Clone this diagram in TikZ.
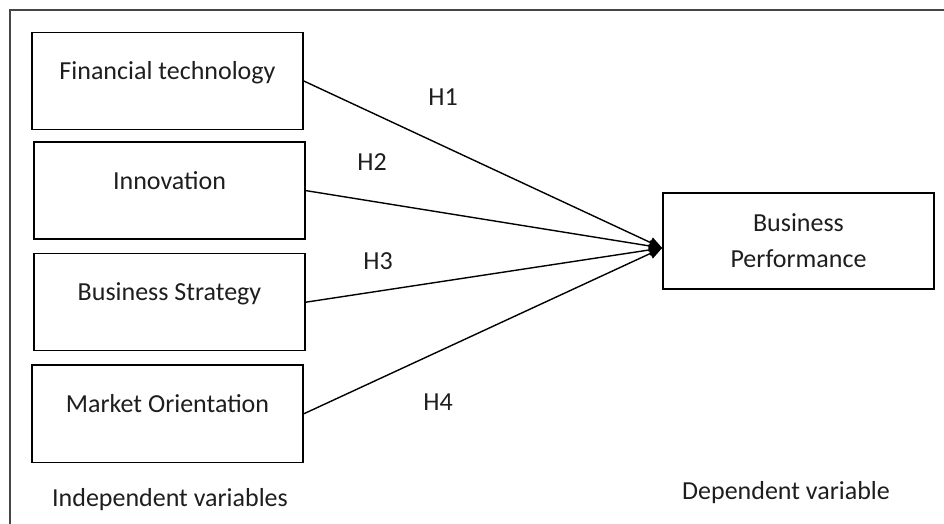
\documentclass[tikz,border=0pt]{standalone}
\usepackage{fontspec}
\setmainfont{Carlito}
\usetikzlibrary{arrows.meta,positioning}
\usepackage{xcolor}
\definecolor{framecol}{RGB}{70,70,70}
\definecolor{inkcol}{RGB}{30,30,30}

\begin{document}
\begin{tikzpicture}[
  x=0.5pt, y=-0.5pt,
  node distance=6pt and 2cm,
  every node/.style={font=\fontsize{13}{18}\selectfont, text=inkcol},
  box/.style={draw, line width=0.8pt, minimum width=135.5pt, minimum height=48.5pt, text height=8pt, text depth=9.5pt, inner sep=0pt},
  target/.style={draw, line width=0.8pt, minimum width=135.5pt, minimum height=48pt, align=center, inner sep=0pt},
  hyp/.style={inner sep=0pt},
  arr/.style={-{Triangle[length=6.5pt,width=5.5pt]}, line width=0.7pt},
  frame/.style={draw=framecol, line width=0.9pt},
]
  \useasboundingbox (0,0) rectangle (944,524);
  \clip (0,0) rectangle (944,524);
  % outer frame (cut off at right and bottom)
  \draw[frame] (10,10) rectangle (990,580);
  % Independent variables -- left column
  \node[box] (fintech) at (167.5,81) {Financial technology};
  \node[box, below=5.5pt of fintech, xshift=1pt] (innov) {Innovation};
  \node[box, below=6.5pt of innov] (strat) {Business Strategy};
  \node[box, below=6.5pt of strat, xshift=-1pt] (market) {Market Orientation};
  \node (indep) at (170,500) {Independent variables};
  % Dependent variable -- right
  \node[target] (perf) at (798.5,241) {Business\\Performance};
  \node (dep) at (786,493) {Dependent variable};
  \coordinate (tip) at ([yshift=-3.5pt]perf.west);
  % Hypotheses
  \draw[arr] (fintech.east) -- (tip);
  \draw[arr] (innov.east)   -- (tip);
  \draw[arr] (strat.east)   -- (tip);
  \draw[arr] (market.east)  -- (tip);
  \node[hyp] (h1) at (443,97)  {H1};
  \node[hyp] (h2) at (372,162) {H2};
  \node[hyp] (h3) at (378,261) {H3};
  \node[hyp] (h4) at (438,402) {H4};
\end{tikzpicture}
\end{document}
